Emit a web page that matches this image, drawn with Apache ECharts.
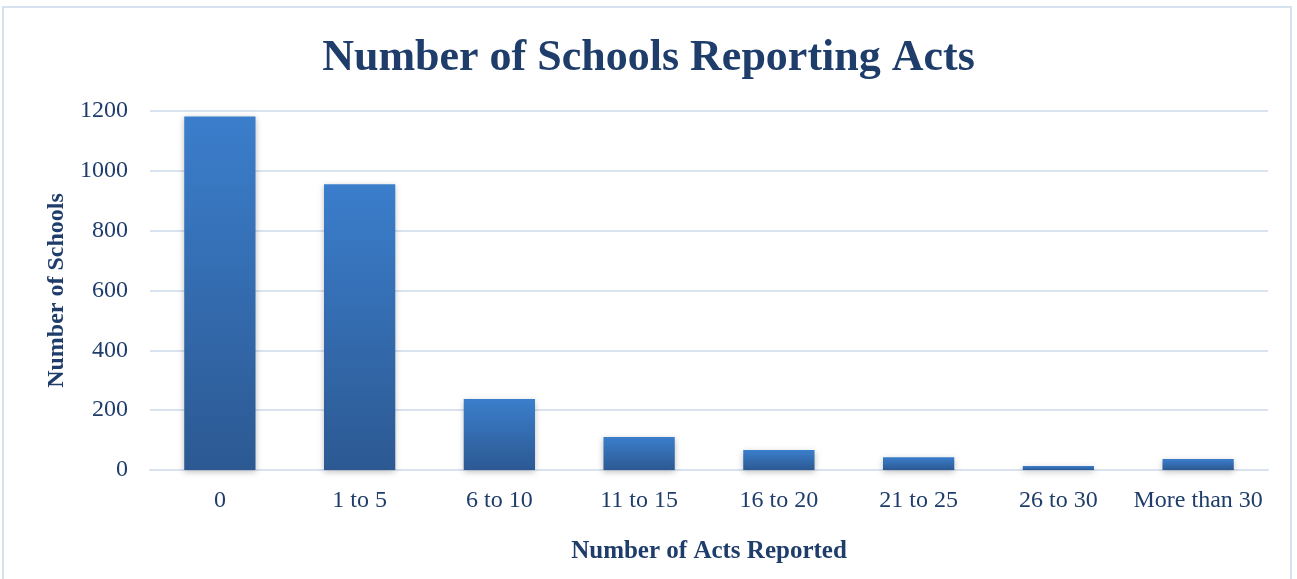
<!DOCTYPE html>
<html><head><meta charset="utf-8">
<script src="https://cdn.jsdelivr.net/npm/echarts@6/dist/echarts.min.js"></script>
<style>html,body{margin:0;padding:0;background:#fff}#c{width:1297px;height:579px}</style>
</head><body><div id="c"></div>
<script>
const categories = ["0","1 to 5","6 to 10","11 to 15","16 to 20","21 to 25","26 to 30","More than 30"];
const schools = [1182, 955, 237, 110, 67, 43, 13, 37];
const yTicks = [0, 200, 400, 600, 800, 1000, 1200];

const FONT = "'Liberation Serif', 'DejaVu Serif', serif";
const TXT = '#1f3d6b';
const chart = echarts.init(document.getElementById('c'));
chart.setOption({
  animation: false,
  graphic: [{type:'rect', shape:{x:3,y:7,width:1288,height:580}, style:{fill:'none', stroke:'#d5e1ef', lineWidth:2}}],
  title: {text:'Number of Schools Reporting Acts', left:'center', top:32,
    textStyle:{fontFamily:FONT, fontWeight:'bold', fontSize:44, color:TXT}},
  grid: {left:150, right:29, top:111, bottom:109},
  xAxis: {type:'category', data:categories,
    axisLine:{lineStyle:{color:'#d9e3f0', width:2}}, axisTick:{show:false},
    axisLabel:{fontFamily:FONT, fontSize:24, color:TXT, margin:19, interval:0},
    name:'Number of Acts Reported', nameLocation:'middle', nameGap:69,
    nameTextStyle:{fontFamily:FONT, fontWeight:'bold', fontSize:25, color:TXT}},
  yAxis: {type:'value', min:yTicks[0], max:yTicks[yTicks.length-1], interval:200,
    axisLine:{show:false}, axisTick:{show:false},
    splitLine:{lineStyle:{color:'#d9e3f0', width:2}},
    axisLabel:{fontFamily:FONT, fontSize:24, color:TXT, margin:22, formatter:v=>String(v)},
    name:'Number of Schools', nameLocation:'middle', nameGap:80,
    nameTextStyle:{fontFamily:FONT, fontWeight:'bold', fontSize:24, color:TXT}},
  series: [{type:'bar', data:schools, barWidth:'51%',
    itemStyle:{color:new echarts.graphic.LinearGradient(0,0,0,1,[{offset:0,color:'#3b7ecc'},{offset:1,color:'#2c5992'}]),
      shadowColor:'rgba(0,0,0,0.25)', shadowBlur:6, shadowOffsetY:2}}]
});
</script></body></html>
